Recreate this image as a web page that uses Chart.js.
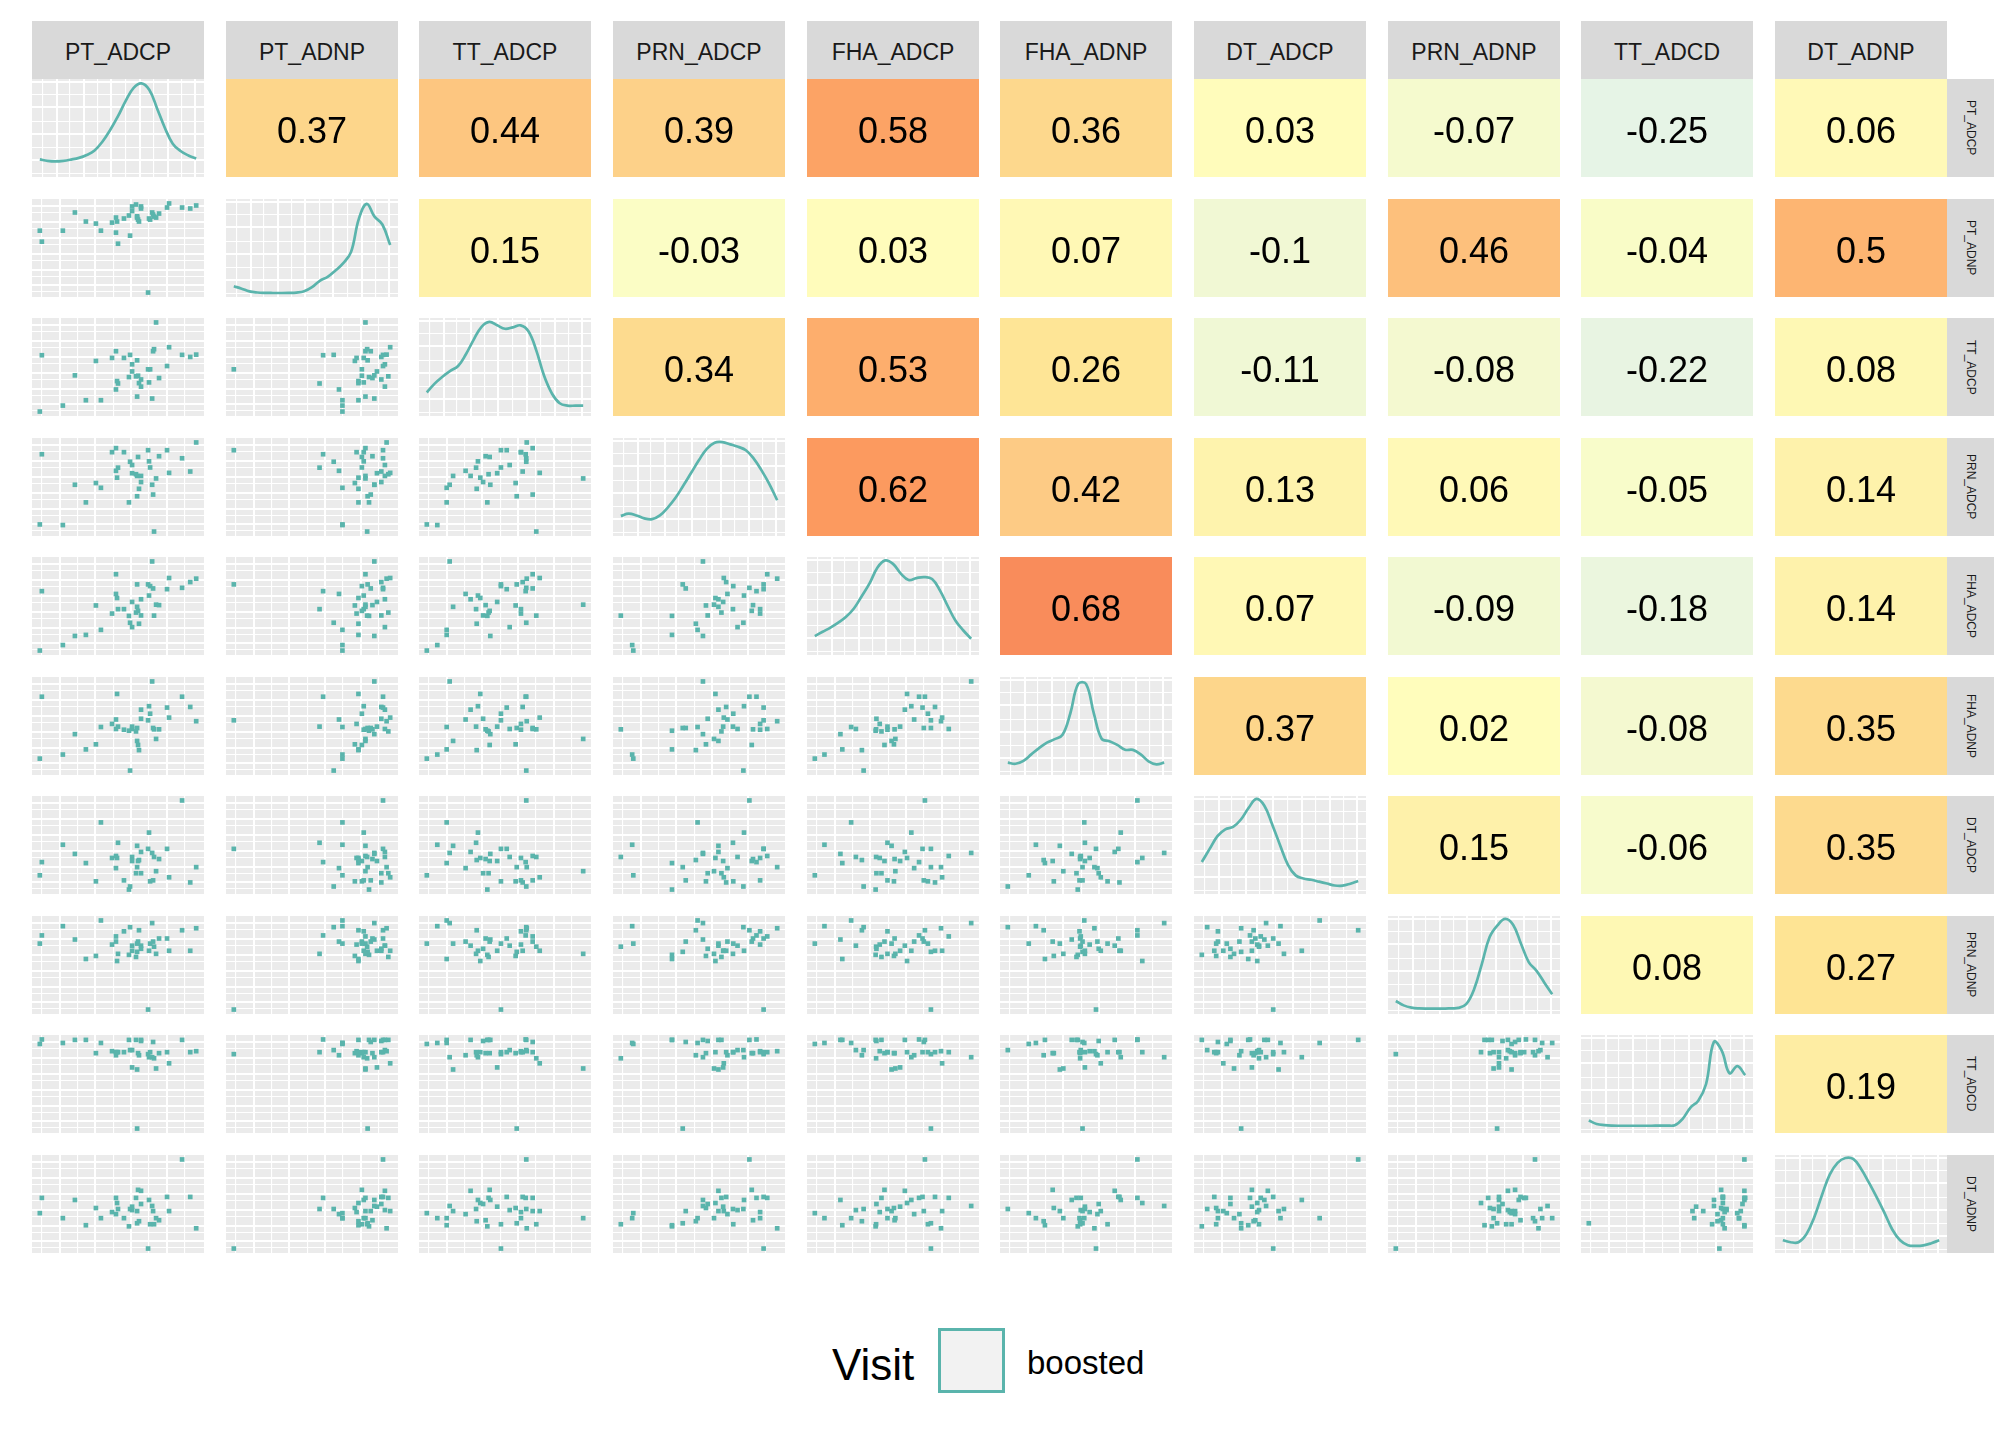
<!DOCTYPE html>
<html>
<head>
<meta charset="utf-8">
<title>Pairs plot</title>
<script src="https://cdn.jsdelivr.net/npm/chart.js@4.4.1/dist/chart.umd.min.js"></script>
<style>
  body { margin: 0; background: #fff; font-family: "Liberation Sans", Arial, sans-serif; }
  #plot { position: relative; width: 2016px; height: 1440px; overflow: hidden; }
  .cell { position: absolute; }
  .cell canvas { display: block; }
  .strip-top { position: absolute; box-sizing: border-box; padding-top: 4px; background: #d9d9d9; color: #1a1a1a;
               font-size: 23px; display: flex; align-items: center; justify-content: center; }
  .strip-right { position: absolute; background: #d9d9d9; color: #1a1a1a; font-size: 12px;
                 display: flex; align-items: center; justify-content: center; writing-mode: vertical-rl; }
  .legend-text { position: absolute; height: 65px; line-height: 65px; color: #000; white-space: nowrap; }
  .legend-key { position: absolute; box-sizing: border-box; border: 3px solid #5ab4ac; background: #f2f2f2; }
</style>
</head>
<body>
<div id="plot"></div>
<script>
// variable names (facet labels)
const varNames = ['PT_ADCP', 'PT_ADNP', 'TT_ADCP', 'PRN_ADCP', 'FHA_ADCP',
                  'FHA_ADNP', 'DT_ADCP', 'PRN_ADNP', 'TT_ADCD', 'DT_ADNP'];

const ptAdcp  = [0.1, 1.4, 14.8, 22.5, 29.5, 35.9, 39.1, 46.2, 48.7, 48.7, 49.4, 50.0, 53.8, 57.0, 57.7, 59.0, 59.0, 61.5, 62.2, 62.2, 62.8, 63.4, 64.7, 64.7, 69.2, 69.8, 70.5, 71.8, 72.4, 73.0, 74.3, 76.2, 81.3, 82.6, 90.9, 96.1, 99.9];
const ptAdnp  = [69.8, 57.4, 69.8, 90.3, 80.1, 77.8, 69.8, 78.9, 84.6, 67.6, 80.1, 55.1, 83.5, 86.9, 64.2, 97.1, 92.0, 99.3, 84.6, 86.0, 82.3, 80.1, 97.1, 94.8, 0.0, 83.5, 82.3, 90.3, 88.0, 85.7, 84.6, 89.1, 95.9, 100.5, 95.9, 94.8, 98.2];
const ttAdcp  = [0, 63.2, 6.7, 40.6, 12.7, 56.8, 12.7, 60.2, 67.7, 24.8, 34.2, 31.5, 60.2, 38.7, 63.6, 53.0, 45.0, 39.5, 16.8, 57.5, 40.2, 31.9, 28.0, 36.0, 47.4, 32.7, 47.4, 14.6, 67.7, 70.0, 100, 37.6, 51.1, 72.2, 63.6, 61.3, 63.9];
const prnAdcp = [8.9, 86.9, 8.2, 53, 33.4, 54.9, 49.6, 89.2, 93.7, 68.5, 60.9, 72, 89.2, 33.4, 78.6, 74.9, 65.8, 64.7, 62.8, 40.2, 83.9, 48.5, 62.8, 56, 91.4, 79.0, 72.2, 53, 42.1, 1.0, 60, 84.7, 91.4, 66.2, 82.4, 67.7, 100];
const fhaAdcp = [1, 67, 7.1, 17.2, 18.4, 51.1, 24, 42.1, 85.8, 63.9, 59.4, 47, 47, 39.5, 31.9, 27, 55, 43.2, 49.6, 74.5, 45.1, 30.8, 58, 40, 74.5, 62.1, 72.6, 100, 70, 39.8, 52, 51.5, 69.2, 81.6, 70.7, 77.1, 80.9];
const fhaAdnp = [14.6, 83.1, 19.1, 41.7, 24.8, 30.4, 49.6, 53, 47.4, 57.9, 86.2, 50, 46.6, 45.5, 1.4, 47.4, 50, 44.7, 34.2, 48.5, 29.7, 24, 68.8, 58.7, 57, 72.6, 64.3, 100, 48.5, 47, 36.4, 47, 71.1, 60, 83.1, 71.8, 56];
const dtAdcp  = [16.8, 31.5, 50.8, 40.6, 30.4, 10.1, 75.6, 36.1, 38.3, 24.8, 36.1, 53, 11.2, 1, 4.4, 37.2, 32.7, 19.1, 49.6, 25.9, 32.7, 33.8, 42.8, 19.1, 46.2, 64.3, 10.1, 41.7, 11.2, 37.2, 21.4, 34.9, 46.2, 14.6, 100, 8.9, 25.9];
const prnAdnp = [74.5, 83.5, 93.7, 79, 57.5, 60.9, 100, 73.4, 82.4, 76.7, 55.3, 63.2, 88, 62.1, 92.6, 72.2, 66.6, 59.8, 74.5, 65.4, 76.7, 89.2, 72.2, 68.8, 1.8, 66.6, 74.5, 97.1, 76.7, 71.1, 63.2, 80.1, 80.1, 66.6, 89.2, 66.6, 91.4];
const ttAdcd  = [96, 101, 97.1, 100.5, 100.5, 85.8, 97.1, 88, 86.9, 83.5, 86.9, 86.9, 86.9, 100.5, 89.2, 89.2, 70, 100.5, 67.7, 2.2, 85.8, 83.5, 100.5, 99.3, 84.7, 81.3, 86.9, 81.3, 98.2, 80.1, 68.8, 85.8, 86.9, 74.5, 100.5, 86.9, 88];
const dtAdnp  = [42.8, 59.8, 37.2, 57.5, 29.3, 48.5, 37.2, 44, 59.8, 41.7, 54.1, 47.4, 37.2, 28.1, 47.4, 46.2, 50, 59.8, 45.1, 31.5, 68.8, 33.8, 67.7, 53, 3.3, 57.5, 30.4, 50.8, 45.1, 30.4, 37.2, 34.9, 60.9, 45.1, 102.7, 60.9, 25.9];

// correlations shown in the upper triangle, one list per row
const corrUpper = [
  [0.37, 0.44, 0.39, 0.58, 0.36, 0.03, -0.07, -0.25, 0.06],
  [0.15, -0.03, 0.03, 0.07, -0.1, 0.46, -0.04, 0.5],
  [0.34, 0.53, 0.26, -0.11, -0.08, -0.22, 0.08],
  [0.62, 0.42, 0.13, 0.06, -0.05, 0.14],
  [0.68, 0.07, -0.09, -0.18, 0.14],
  [0.37, 0.02, -0.08, 0.35],
  [0.15, -0.06, 0.35],
  [0.08, 0.27],
  [0.19]
];

// density curves on the diagonal: heights read at fixed fractions of each variable's range
const densGrid = [0, 0.05, 0.1, 0.15, 0.2, 0.25, 0.3, 0.35, 0.4, 0.45, 0.5, 0.55, 0.6, 0.65, 0.7, 0.75, 0.8, 0.85, 0.9, 0.95, 1];
const densPtAdcp  = [0.18, 0.165, 0.16, 0.165, 0.178, 0.195, 0.225, 0.27, 0.36, 0.48, 0.62, 0.78, 0.91, 0.956, 0.89, 0.7, 0.5, 0.34, 0.265, 0.22, 0.188];
const densPtAdnp  = [0.11, 0.085, 0.057, 0.046, 0.042, 0.041, 0.041, 0.042, 0.045, 0.058, 0.1, 0.165, 0.205, 0.27, 0.345, 0.46, 0.8, 0.95, 0.82, 0.74, 0.53];
const densTtAdcp  = [0.24, 0.33, 0.4, 0.46, 0.51, 0.63, 0.78, 0.91, 0.96, 0.925, 0.89, 0.905, 0.925, 0.865, 0.67, 0.41, 0.23, 0.13, 0.106, 0.106, 0.106];
const densPrnAdcp = [0.205, 0.228, 0.21, 0.18, 0.172, 0.21, 0.29, 0.39, 0.515, 0.645, 0.775, 0.89, 0.952, 0.958, 0.935, 0.91, 0.875, 0.79, 0.67, 0.53, 0.365];
const densFhaAdcp = [0.193, 0.237, 0.28, 0.33, 0.39, 0.475, 0.6, 0.73, 0.89, 0.965, 0.93, 0.83, 0.765, 0.785, 0.795, 0.775, 0.66, 0.5, 0.35, 0.25, 0.166];
const densFhaAdnp = [0.126, 0.115, 0.145, 0.21, 0.275, 0.33, 0.366, 0.41, 0.63, 0.93, 0.93, 0.63, 0.37, 0.345, 0.307, 0.258, 0.256, 0.21, 0.14, 0.109, 0.126];
const densDtAdcp  = [0.326, 0.46, 0.59, 0.66, 0.684, 0.76, 0.88, 0.97, 0.9, 0.71, 0.5, 0.3, 0.19, 0.158, 0.145, 0.126, 0.107, 0.087, 0.085, 0.105, 0.132];
const densPrnAdnp = [0.133, 0.088, 0.065, 0.057, 0.055, 0.055, 0.055, 0.058, 0.062, 0.1, 0.25, 0.51, 0.785, 0.905, 0.97, 0.91, 0.72, 0.53, 0.44, 0.32, 0.202];
const densTtAdcd  = [0.128, 0.092, 0.08, 0.075, 0.074, 0.074, 0.074, 0.074, 0.074, 0.075, 0.076, 0.08, 0.145, 0.26, 0.33, 0.5, 0.93, 0.84, 0.61, 0.682, 0.59];
const densDtAdnp  = [0.13, 0.11, 0.11, 0.19, 0.36, 0.59, 0.8, 0.92, 0.97, 0.96, 0.86, 0.72, 0.57, 0.41, 0.24, 0.13, 0.08, 0.072, 0.078, 0.1, 0.13];

// legend
const legendTitle = 'Visit';
const legendLabel = 'boosted';

// ---- styling / layout ----
const vars = [ptAdcp, ptAdnp, ttAdcp, prnAdcp, fhaAdcp, fhaAdnp, dtAdcp, prnAdnp, ttAdcd, dtAdnp];
const dens = [densPtAdcp, densPtAdnp, densTtAdcp, densPrnAdcp, densFhaAdcp, densFhaAdnp, densDtAdcp, densPrnAdnp, densTtAdcd, densDtAdnp];

const TEAL = '#5ab4ac';
const PANEL_BG = '#ebebeb';
const X0 = 32, Y0 = 79, PITCH_X = 193.67, PITCH_Y = 119.5, CELL_W = 172, CELL_H = 98;

// white grid positions as fractions of the panel
const gridScatterX = [0.056, 0.163, 0.262, 0.366, 0.473, 0.576, 0.676, 0.783, 0.886];
const gridScatterY = [0.052, 0.12, 0.21, 0.278, 0.371, 0.44, 0.533, 0.601, 0.698, 0.766, 0.862, 0.931];
const gridDensX = [0.06, 0.145, 0.22, 0.3, 0.38, 0.46, 0.545, 0.625, 0.705, 0.79, 0.87, 0.95];
const gridDensY = [0.04, 0.17, 0.3, 0.44, 0.57, 0.71, 0.84, 0.97];

const corrStops = [
  [-0.3, '#e2f2ec'], [-0.1, '#f1f8d4'], [0, '#ffffbf'], [0.15, '#fef1aa'], [0.27, '#fee494'],
  [0.35, '#fdda8e'], [0.42, '#fdcb85'], [0.5, '#fdb572'], [0.62, '#fc9a5f'], [0.7, '#f8875a']
];

function hexToRgb(h) {
  return [parseInt(h.slice(1, 3), 16), parseInt(h.slice(3, 5), 16), parseInt(h.slice(5, 7), 16)];
}

function corrColor(v) {
  if (v <= corrStops[0][0]) return corrStops[0][1];
  for (let k = 1; k < corrStops.length; k++) {
    if (v <= corrStops[k][0]) {
      const [v0, c0] = corrStops[k - 1], [v1, c1] = corrStops[k];
      const t = (v - v0) / (v1 - v0);
      const a = hexToRgb(c0), b = hexToRgb(c1);
      const rgb = a.map((x, i) => Math.round(x + (b[i] - x) * t));
      return `rgb(${rgb.join(',')})`;
    }
  }
  return corrStops[corrStops.length - 1][1];
}

function dataRange(v) {
  return [Math.min(...v), Math.max(...v)];
}

function expanded(v) {
  const [lo, hi] = dataRange(v);
  const pad = (hi - lo) * 0.05;
  return [lo - pad, hi + pad];
}

const panelBackground = {
  id: 'panelBackground',
  beforeDraw(chart) {
    const { ctx, chartArea: a } = chart;
    ctx.save();
    ctx.fillStyle = PANEL_BG;
    ctx.fillRect(a.left, a.top, a.right - a.left, a.bottom - a.top);
    ctx.restore();
  }
};

const tileLabel = {
  id: 'tileLabel',
  afterDraw(chart, args, opts) {
    const { ctx, chartArea: a } = chart;
    ctx.save();
    ctx.fillStyle = '#000';
    ctx.font = '36px "Liberation Sans", Arial, sans-serif';
    ctx.textAlign = 'center';
    ctx.textBaseline = 'alphabetic';
    ctx.fillText(opts.text, (a.left + a.right) / 2, (a.top + a.bottom) / 2 + 14.5);
    ctx.restore();
  }
};

function gridAxis(range, fracs) {
  return {
    type: 'linear',
    min: range[0],
    max: range[1],
    ticks: { display: false },
    border: { display: false },
    grid: {
      color: '#ffffff',
      drawTicks: false,
      lineWidth: (c) => (c.index % 2 === 0 ? 1.1 : 2)
    },
    afterBuildTicks: (axis) => {
      axis.ticks = fracs.map(f => ({ value: axis.min + f * (axis.max - axis.min) }));
    }
  };
}

const plot = document.getElementById('plot');

function makeCell(left, top) {
  const div = document.createElement('div');
  div.className = 'cell';
  div.style.left = left + 'px';
  div.style.top = top + 'px';
  const canvas = document.createElement('canvas');
  canvas.width = CELL_W;
  canvas.height = CELL_H;
  canvas.style.width = CELL_W + 'px';
  canvas.style.height = CELL_H + 'px';
  div.appendChild(canvas);
  plot.appendChild(div);
  return canvas;
}

const baseOptions = {
  responsive: false,
  animation: false,
  events: [],
  layout: { padding: 0, autoPadding: false },
  plugins: { legend: { display: false }, tooltip: { enabled: false } }
};

for (let i = 0; i < varNames.length; i++) {
  for (let j = 0; j < varNames.length; j++) {
    const left = Math.round(X0 + j * PITCH_X);
    const top = Math.round(Y0 + i * PITCH_Y);
    const canvas = makeCell(left, top);

    if (i > j) {
      // scatter: column variable on x, row variable on y
      const pts = vars[j].map((x, k) => ({ x, y: vars[i][k] }));
      new Chart(canvas, {
        type: 'scatter',
        data: { datasets: [{ data: pts, pointStyle: 'rect', pointRadius: 3.3,
                             backgroundColor: TEAL, borderWidth: 0 }] },
        options: { ...baseOptions,
          scales: { x: gridAxis(expanded(vars[j]), gridScatterX), y: gridAxis(expanded(vars[i]), gridScatterY) } },
        plugins: [panelBackground]
      });
    } else if (i === j) {
      // density on the diagonal
      const [lo, hi] = dataRange(vars[i]);
      const pts = densGrid.map((f, k) => ({ x: lo + f * (hi - lo), y: dens[i][k] }));
      new Chart(canvas, {
        type: 'line',
        data: { datasets: [{ data: pts, borderColor: TEAL, borderWidth: 2.7, pointRadius: 0,
                             tension: 0.4, fill: false }] },
        options: { ...baseOptions,
          scales: { x: gridAxis(expanded(vars[i]), gridDensX), y: gridAxis([0, 1], gridDensY) } },
        plugins: [panelBackground]
      });
    } else {
      // correlation tile
      const r = corrUpper[i][j - i - 1];
      new Chart(canvas, {
        type: 'bar',
        data: { labels: [varNames[j]], datasets: [{ data: [1], backgroundColor: corrColor(r),
                 borderWidth: 0, barPercentage: 1, categoryPercentage: 1 }] },
        options: { ...baseOptions,
          plugins: { ...baseOptions.plugins, tileLabel: { text: String(r) } },
          scales: { x: { display: false }, y: { display: false, min: 0, max: 1 } } },
        plugins: [tileLabel]
      });
    }
  }
}

// facet strips
varNames.forEach((name, j) => {
  const s = document.createElement('div');
  s.className = 'strip-top';
  s.style.left = Math.round(X0 + j * PITCH_X) + 'px';
  s.style.top = '21px';
  s.style.width = CELL_W + 'px';
  s.style.height = '58px';
  s.textContent = name;
  plot.appendChild(s);
});
varNames.forEach((name, i) => {
  const s = document.createElement('div');
  s.className = 'strip-right';
  s.style.left = '1947px';
  s.style.top = Math.round(Y0 + i * PITCH_Y) + 'px';
  s.style.width = '47px';
  s.style.height = CELL_H + 'px';
  s.textContent = name;
  plot.appendChild(s);
});

// legend
const lt = document.createElement('div');
lt.className = 'legend-text';
lt.style.left = '832px'; lt.style.top = '1332px'; lt.style.fontSize = '44px';
lt.textContent = legendTitle;
plot.appendChild(lt);

const key = document.createElement('div');
key.className = 'legend-key';
key.style.left = '938px'; key.style.top = '1328px'; key.style.width = '67px'; key.style.height = '65px';
plot.appendChild(key);

const ll = document.createElement('div');
ll.className = 'legend-text';
ll.style.left = '1027px'; ll.style.top = '1330px'; ll.style.fontSize = '33px';
ll.textContent = legendLabel;
plot.appendChild(ll);
</script>
</body>
</html>
